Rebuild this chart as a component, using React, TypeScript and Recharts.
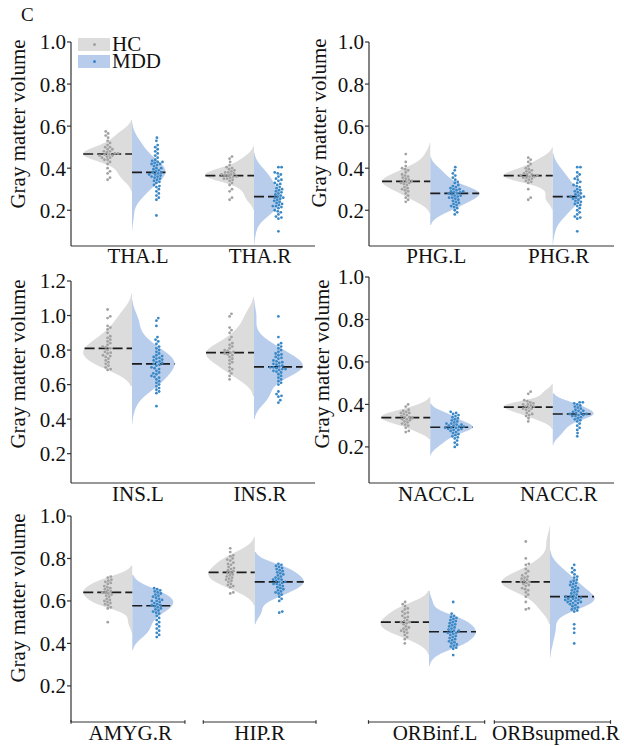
import React from "react";
import { ComposedChart, Area, Scatter, XAxis, YAxis, ReferenceLine, Legend } from "recharts";

const groups = ["HC", "MDD"];

const thaCats = ["THA.L", "THA.R"];
const phgCats = ["PHG.L", "PHG.R"];
const insCats = ["INS.L", "INS.R"];
const naccCats = ["NACC.L", "NACC.R"];
const limbicCats = ["AMYG.R", "HIP.R"];
const orbCats = ["ORBinf.L", "ORBsupmed.R"];

const ticksTo10 = [0.2, 0.4, 0.6, 0.8, 1.0];
const ticksTo12 = [0.2, 0.4, 0.6, 0.8, 1.0, 1.2];

// gray matter volume per subject
const thaL_hc = [0.575, 0.565, 0.555, 0.545, 0.53, 0.52, 0.51, 0.5, 0.5, 0.49, 0.49, 0.48, 0.48, 0.475, 0.47, 0.47, 0.465, 0.465, 0.46, 0.46, 0.455, 0.45, 0.45, 0.44, 0.44, 0.43, 0.42, 0.4, 0.385, 0.375, 0.355, 0.345];
const thaL_mdd = [0.545, 0.53, 0.51, 0.5, 0.49, 0.48, 0.47, 0.46, 0.45, 0.44, 0.435, 0.43, 0.43, 0.425, 0.42, 0.42, 0.415, 0.41, 0.4, 0.4, 0.395, 0.39, 0.385, 0.38, 0.38, 0.375, 0.37, 0.37, 0.365, 0.36, 0.36, 0.355, 0.35, 0.345, 0.34, 0.335, 0.33, 0.32, 0.315, 0.31, 0.3, 0.29, 0.28, 0.27, 0.26, 0.25, 0.175];
const thaR_hc = [0.455, 0.445, 0.43, 0.415, 0.405, 0.4, 0.395, 0.39, 0.385, 0.38, 0.38, 0.375, 0.37, 0.37, 0.365, 0.365, 0.36, 0.36, 0.355, 0.35, 0.35, 0.345, 0.34, 0.33, 0.32, 0.3, 0.29, 0.26, 0.25];
const thaR_mdd = [0.405, 0.405, 0.38, 0.375, 0.37, 0.36, 0.35, 0.345, 0.34, 0.33, 0.325, 0.32, 0.31, 0.305, 0.3, 0.295, 0.29, 0.285, 0.28, 0.275, 0.27, 0.265, 0.26, 0.26, 0.255, 0.25, 0.245, 0.24, 0.235, 0.23, 0.225, 0.22, 0.22, 0.215, 0.21, 0.2, 0.195, 0.19, 0.18, 0.17, 0.165, 0.16, 0.1];

const phgL_hc = [0.467, 0.43, 0.41, 0.4, 0.395, 0.39, 0.38, 0.37, 0.365, 0.36, 0.355, 0.35, 0.345, 0.34, 0.34, 0.335, 0.33, 0.33, 0.325, 0.32, 0.31, 0.305, 0.3, 0.295, 0.29, 0.28, 0.27, 0.26, 0.25, 0.24];
const phgL_mdd = [0.405, 0.39, 0.375, 0.365, 0.355, 0.345, 0.335, 0.33, 0.32, 0.315, 0.31, 0.305, 0.3, 0.3, 0.295, 0.29, 0.29, 0.285, 0.285, 0.28, 0.28, 0.275, 0.27, 0.27, 0.265, 0.26, 0.26, 0.255, 0.25, 0.245, 0.24, 0.235, 0.23, 0.225, 0.22, 0.215, 0.21, 0.2, 0.19, 0.18];
const phgR_hc = [0.45, 0.44, 0.43, 0.42, 0.41, 0.4, 0.395, 0.39, 0.385, 0.38, 0.375, 0.37, 0.37, 0.365, 0.365, 0.36, 0.36, 0.355, 0.355, 0.35, 0.345, 0.34, 0.335, 0.33, 0.3, 0.26, 0.25];
const phgR_mdd = [0.405, 0.405, 0.38, 0.37, 0.36, 0.35, 0.345, 0.335, 0.33, 0.32, 0.315, 0.31, 0.3, 0.295, 0.29, 0.285, 0.28, 0.275, 0.27, 0.265, 0.265, 0.26, 0.26, 0.255, 0.25, 0.245, 0.24, 0.235, 0.23, 0.225, 0.22, 0.21, 0.2, 0.19, 0.18, 0.17, 0.165, 0.16, 0.1];

const insL_hc = [1.035, 0.995, 0.985, 0.94, 0.93, 0.92, 0.9, 0.88, 0.87, 0.86, 0.85, 0.84, 0.83, 0.82, 0.815, 0.81, 0.8, 0.79, 0.785, 0.78, 0.77, 0.765, 0.76, 0.75, 0.74, 0.73, 0.72, 0.71, 0.7, 0.69, 0.685];
const insL_mdd = [0.985, 0.97, 0.94, 0.875, 0.86, 0.85, 0.835, 0.82, 0.81, 0.8, 0.79, 0.78, 0.77, 0.765, 0.76, 0.755, 0.75, 0.745, 0.74, 0.735, 0.73, 0.725, 0.72, 0.715, 0.71, 0.7, 0.695, 0.69, 0.68, 0.67, 0.665, 0.66, 0.65, 0.645, 0.64, 0.63, 0.62, 0.61, 0.6, 0.59, 0.58, 0.57, 0.56, 0.55, 0.475];
const insR_hc = [1.01, 0.995, 0.93, 0.915, 0.9, 0.875, 0.86, 0.84, 0.83, 0.82, 0.81, 0.8, 0.795, 0.79, 0.785, 0.78, 0.775, 0.77, 0.76, 0.75, 0.74, 0.73, 0.72, 0.7, 0.69, 0.68, 0.665, 0.65, 0.63];
const insR_mdd = [0.995, 0.875, 0.84, 0.83, 0.82, 0.81, 0.8, 0.79, 0.78, 0.775, 0.77, 0.76, 0.755, 0.75, 0.74, 0.735, 0.73, 0.725, 0.72, 0.715, 0.71, 0.705, 0.7, 0.7, 0.695, 0.69, 0.69, 0.685, 0.68, 0.675, 0.67, 0.66, 0.65, 0.64, 0.63, 0.62, 0.61, 0.6, 0.56, 0.545, 0.535, 0.53, 0.51, 0.495];

const naccL_hc = [0.4, 0.39, 0.375, 0.37, 0.365, 0.36, 0.36, 0.355, 0.35, 0.345, 0.34, 0.34, 0.335, 0.33, 0.33, 0.325, 0.32, 0.315, 0.31, 0.305, 0.3, 0.29, 0.275, 0.27];
const naccL_mdd = [0.365, 0.36, 0.355, 0.35, 0.345, 0.34, 0.335, 0.33, 0.325, 0.32, 0.315, 0.31, 0.31, 0.305, 0.305, 0.3, 0.3, 0.295, 0.295, 0.29, 0.29, 0.29, 0.285, 0.285, 0.28, 0.28, 0.275, 0.27, 0.265, 0.26, 0.255, 0.25, 0.245, 0.24, 0.23, 0.22, 0.21, 0.2];
const naccR_hc = [0.46, 0.45, 0.42, 0.415, 0.41, 0.405, 0.4, 0.4, 0.395, 0.39, 0.39, 0.385, 0.38, 0.38, 0.375, 0.37, 0.36, 0.355, 0.35, 0.345, 0.335, 0.32];
const naccR_mdd = [0.41, 0.41, 0.405, 0.4, 0.395, 0.39, 0.385, 0.38, 0.375, 0.37, 0.37, 0.365, 0.36, 0.36, 0.355, 0.355, 0.35, 0.35, 0.345, 0.345, 0.34, 0.335, 0.33, 0.325, 0.32, 0.31, 0.3, 0.29, 0.28, 0.265, 0.25];

const amygR_hc = [0.715, 0.71, 0.7, 0.695, 0.69, 0.685, 0.68, 0.67, 0.665, 0.66, 0.655, 0.65, 0.645, 0.64, 0.64, 0.635, 0.63, 0.625, 0.62, 0.61, 0.605, 0.6, 0.595, 0.59, 0.585, 0.58, 0.57, 0.565, 0.5];
const amygR_mdd = [0.66, 0.655, 0.65, 0.645, 0.64, 0.635, 0.63, 0.625, 0.62, 0.615, 0.61, 0.605, 0.6, 0.6, 0.595, 0.59, 0.585, 0.58, 0.58, 0.575, 0.57, 0.565, 0.56, 0.555, 0.55, 0.545, 0.54, 0.53, 0.52, 0.51, 0.5, 0.49, 0.48, 0.47, 0.46, 0.45, 0.44, 0.43];
const hipR_hc = [0.848, 0.83, 0.815, 0.81, 0.8, 0.795, 0.79, 0.78, 0.775, 0.77, 0.76, 0.755, 0.75, 0.745, 0.74, 0.735, 0.73, 0.725, 0.72, 0.715, 0.71, 0.705, 0.7, 0.695, 0.69, 0.68, 0.675, 0.67, 0.665, 0.64, 0.635];
const hipR_mdd = [0.775, 0.77, 0.765, 0.76, 0.755, 0.75, 0.745, 0.74, 0.735, 0.73, 0.725, 0.72, 0.715, 0.71, 0.705, 0.7, 0.7, 0.695, 0.69, 0.69, 0.685, 0.68, 0.68, 0.675, 0.67, 0.665, 0.66, 0.655, 0.65, 0.645, 0.64, 0.635, 0.63, 0.62, 0.61, 0.6, 0.55, 0.545];

const orbInfL_hc = [0.595, 0.585, 0.575, 0.565, 0.56, 0.55, 0.545, 0.54, 0.53, 0.525, 0.52, 0.51, 0.505, 0.5, 0.5, 0.495, 0.49, 0.48, 0.475, 0.47, 0.465, 0.46, 0.455, 0.45, 0.44, 0.43, 0.42, 0.4];
const orbInfL_mdd = [0.595, 0.54, 0.53, 0.525, 0.52, 0.515, 0.51, 0.505, 0.5, 0.495, 0.49, 0.485, 0.48, 0.475, 0.47, 0.465, 0.46, 0.46, 0.455, 0.45, 0.45, 0.445, 0.44, 0.435, 0.43, 0.425, 0.42, 0.415, 0.41, 0.405, 0.4, 0.395, 0.39, 0.385, 0.38, 0.375, 0.345];
const orbSupR_hc = [0.88, 0.8, 0.775, 0.77, 0.75, 0.74, 0.73, 0.72, 0.715, 0.71, 0.705, 0.7, 0.695, 0.69, 0.69, 0.685, 0.68, 0.675, 0.67, 0.66, 0.655, 0.65, 0.64, 0.63, 0.62, 0.595, 0.565, 0.56];
const orbSupR_mdd = [0.77, 0.755, 0.745, 0.735, 0.725, 0.715, 0.71, 0.7, 0.695, 0.69, 0.685, 0.68, 0.675, 0.67, 0.665, 0.66, 0.655, 0.65, 0.645, 0.64, 0.635, 0.63, 0.625, 0.62, 0.62, 0.615, 0.615, 0.61, 0.61, 0.605, 0.605, 0.6, 0.6, 0.595, 0.595, 0.59, 0.59, 0.585, 0.58, 0.575, 0.57, 0.565, 0.56, 0.555, 0.55, 0.49, 0.47, 0.45, 0.4];

const SERIF = "'Liberation Serif', 'Times New Roman', serif";
const FS = 21;
const INK = "#111";
const AXIS = "#333";
const HC_FILL = "#dcdcdc";
const MDD_FILL = "#b8cdec";
const HC_DOT = "#a2a2a2";
const MDD_DOT = "#3a88c6";
const fills = [HC_FILL, MDD_FILL];
const dots = [HC_DOT, MDD_DOT];

const Y_MIN = 0.03;
const X_DOMAIN = [-0.5, 1.5];
const STEP = 0.002;
const HALF = 0.4; // max half-violin width (x units)
const DOT_SHIFT = 0.2;
const DOT_GAP = 3.2; // px between swarm dots

const panels = [
  { cats: thaCats, hc: [thaL_hc, thaR_hc], mdd: [thaL_mdd, thaR_mdd], yMax: 1.0, yTicks: ticksTo10,
    left: 0, top: 0, width: 318, height: 275, margin: { top: 42, right: 3, bottom: 0, left: 0 }, yWidth: 71, xHeight: 29,
    title: { x: 18, y: 124 }, labelDy: 17, tickDx: [6, 6], legend: true },
  { cats: phgCats, hc: [phgL_hc, phgR_hc], mdd: [phgL_mdd, phgR_mdd], yMax: 1.0, yTicks: ticksTo10,
    left: 300, top: 0, width: 324, height: 275, margin: { top: 42, right: 10, bottom: 0, left: 0 }, yWidth: 69, xHeight: 29,
    title: { x: 19, y: 123 }, labelDy: 17, tickDx: [6, 6] },
  { cats: insCats, hc: [insL_hc, insR_hc], mdd: [insL_mdd, insR_mdd], yMax: 1.2, yTicks: ticksTo12,
    left: 0, top: 255, width: 318, height: 255, margin: { top: 26, right: 3, bottom: 0, left: 0 }, yWidth: 71, xHeight: 27,
    title: { x: 18, y: 109 }, labelDy: 18, tickDx: [6, 6] },
  { cats: naccCats, hc: [naccL_hc, naccR_hc], mdd: [naccL_mdd, naccR_mdd], yMax: 1.0, yTicks: ticksTo10,
    left: 300, top: 255, width: 324, height: 255, margin: { top: 22, right: 10, bottom: 0, left: 0 }, yWidth: 69, xHeight: 27,
    title: { x: 22, y: 109 }, labelDy: 18, tickDx: [6, 6] },
  { cats: limbicCats, hc: [amygR_hc, hipR_hc], mdd: [amygR_mdd, hipR_mdd], yMax: 1.0, yTicks: ticksTo10,
    left: 0, top: 495, width: 340, height: 251, margin: { top: 21, right: 24, bottom: 0, left: 0 }, yWidth: 71, xHeight: 24,
    title: { x: 17.5, y: 103 }, labelDy: 18, tickDx: [-2, 5], segments: [[-0.5, 0.43], [0.58, 1.5]] },
  { cats: orbCats, hc: [orbInfL_hc, orbSupR_hc], mdd: [orbInfL_mdd, orbSupR_mdd], yMax: 1.0, yTicks: ticksTo10,
    left: 340, top: 495, width: 284, height: 251, margin: { top: 21, right: 13.5, bottom: 0, left: 28.5 }, yWidth: 0, xHeight: 24,
    title: null, labelDy: 18, tickDx: [6, 6], segments: [[-0.5, 0.46], [0.54, 1.5]] },
];

// gaussian kde, scott bandwidth, cut = 2 (seaborn defaults)
function kde(vals: number[]) {
  const n = vals.length;
  const mean = vals.reduce((s, v) => s + v, 0) / n;
  const sd = Math.sqrt(vals.reduce((s, v) => s + (v - mean) ** 2, 0) / (n - 1));
  const bw = sd * Math.pow(n, -0.2);
  const lo = Math.min(...vals) - 2 * bw;
  const hi = Math.max(...vals) + 2 * bw;
  const f = (y: number) =>
    vals.reduce((s, v) => s + Math.exp(-0.5 * ((y - v) / bw) ** 2), 0) / (n * bw * Math.sqrt(2 * Math.PI));
  let peak = 0;
  for (let i = 0; i <= 200; i++) peak = Math.max(peak, f(lo + ((hi - lo) * i) / 200));
  return { lo, hi, f, peak };
}

function median(vals: number[]) {
  const s = [...vals].sort((a, b) => a - b);
  const m = s.length >> 1;
  return s.length % 2 ? s[m] : (s[m - 1] + s[m]) / 2;
}

// beeswarm offsets in px
function swarm(vals: number[], ypx: number, d: number) {
  const order = vals.map((_, i) => i).sort((a, b) => vals[a] - vals[b]);
  const placed: { x: number; y: number }[] = [];
  const out = new Array(vals.length).fill(0);
  for (const i of order) {
    const y = vals[i] * ypx;
    const near = placed.filter((p) => Math.abs(p.y - y) < d);
    const cands = [0];
    near.forEach((p) => {
      const dx = Math.sqrt(d * d - (p.y - y) ** 2);
      cands.push(p.x + dx, p.x - dx);
    });
    cands.sort((a, b) => Math.abs(a) - Math.abs(b));
    const x = cands.find((c) => near.every((p) => (p.x - c) ** 2 + (p.y - y) ** 2 >= d * d - 1e-6)) ?? 0;
    placed.push({ x, y });
    out[i] = x;
  }
  return out;
}

function CatTick(props: any) {
  const { x, y, payload, cats, dxs, dy } = props;
  return (
    <text x={x + dxs[payload.value]} y={y + dy} textAnchor="middle" fontSize={FS} fontFamily={SERIF} fill={INK}>
      {cats[payload.value]}
    </text>
  );
}

function YTitle({ px, py }: any) {
  return (
    <text x={px} y={py} transform={`rotate(-90 ${px} ${py})`} textAnchor="middle" dominantBaseline="central"
      fontSize={FS} fontFamily={SERIF} fill={INK}>
      Gray matter volume
    </text>
  );
}

function GroupKey() {
  return (
    <div style={{ fontFamily: SERIF, fontSize: FS, color: INK }}>
      {groups.map((g, i) => (
        <div key={g} style={{ display: "flex", alignItems: "center", height: 17 }}>
          <div style={{ width: 32, height: 13, background: fills[i], position: "relative" }}>
            <div style={{ position: "absolute", left: 14.5, top: 5, width: 3, height: 3, borderRadius: "50%", background: dots[i] }} />
          </div>
          <span style={{ marginLeft: 2, lineHeight: "17px" }}>{g}</span>
        </div>
      ))}
    </div>
  );
}

function Panel({ p }: { p: any }) {
  const plotW = p.width - p.margin.left - p.margin.right - p.yWidth;
  const plotH = p.height - p.margin.top - p.margin.bottom - p.xHeight;
  const xpx = plotW / (X_DOMAIN[1] - X_DOMAIN[0]);
  const ypx = plotH / (p.yMax - Y_MIN);

  const halves: any[] = [];
  p.cats.forEach((_: string, ci: number) => {
    const a = kde(p.hc[ci]);
    const b = kde(p.mdd[ci]);
    const peak = Math.max(a.peak, b.peak);
    halves.push({ ci, side: -1, k: a, peak, vals: p.hc[ci], fill: HC_FILL, dot: HC_DOT });
    halves.push({ ci, side: 1, k: b, peak, vals: p.mdd[ci], fill: MDD_FILL, dot: MDD_DOT });
  });
  const halfWidth = (h: any, y: number) => (HALF * h.k.f(y)) / h.peak;

  const rows: any[] = [];
  const nSteps = Math.round((p.yMax - Y_MIN) / STEP);
  for (let i = 0; i <= nSteps; i++) {
    const y = Y_MIN + i * STEP;
    const row: any = { y };
    halves.forEach((h, j) => {
      if (y < h.k.lo || y > h.k.hi) {
        row[`v${j}`] = null;
        return;
      }
      const w = halfWidth(h, y);
      row[`v${j}`] = h.side < 0 ? [h.ci - w, h.ci] : [h.ci, h.ci + w];
    });
    rows.push(row);
  }

  const endTick = 1.8 / ypx;

  return (
    <div style={{ position: "absolute", left: p.left, top: p.top }}>
      <ComposedChart layout="vertical" width={p.width} height={p.height} data={rows} margin={p.margin}>
        <XAxis type="number" dataKey="x" domain={X_DOMAIN} allowDataOverflow ticks={[0, 1]} interval={0}
          height={p.xHeight} tickSize={0} tickMargin={0} tickLine={false}
          axisLine={p.segments ? false : { stroke: AXIS, strokeWidth: 1.2 }}
          tick={<CatTick cats={p.cats} dxs={p.tickDx} dy={p.labelDy} />} />
        <YAxis type="number" dataKey="y" reversed domain={[Y_MIN, p.yMax]} allowDataOverflow ticks={p.yTicks}
          interval={0} hide={!p.yWidth} width={p.yWidth || 0} tickSize={4} tickMargin={1}
          tick={{ fontSize: FS, fontFamily: SERIF, fill: INK }} tickFormatter={(v: number) => v.toFixed(1)}
          axisLine={{ stroke: AXIS, strokeWidth: 1.2 }} tickLine={{ stroke: AXIS, strokeWidth: 1.2 }}
          label={p.title ? <YTitle px={p.title.x} py={p.title.y} /> : undefined} />
        {halves.map((h, j) => (
          <Area key={`a${j}`} dataKey={`v${j}`} type="linear" fill={h.fill} fillOpacity={1} stroke="none"
            dot={false} activeDot={false} isAnimationActive={false} />
        ))}
        {halves.map((h, j) => {
          const off = swarm(h.vals, ypx, DOT_GAP);
          const pts = h.vals.map((v: number, i: number) => ({ x: h.ci + h.side * DOT_SHIFT + off[i] / xpx, y: v }));
          return (
            <Scatter key={`s${j}`} data={pts} isAnimationActive={false}
              shape={(s: any) => <circle cx={s.cx} cy={s.cy} r={1.4} fill={h.dot} />} />
          );
        })}
        {halves.map((h, j) => {
          const m = median(h.vals);
          const w = halfWidth(h, m);
          const seg = h.side < 0 ? [{ x: h.ci - w, y: m }, { x: h.ci, y: m }] : [{ x: h.ci, y: m }, { x: h.ci + w, y: m }];
          return (
            <ReferenceLine key={`m${j}`} segment={seg} stroke="#1c1c1c" strokeWidth={1.7} strokeDasharray="10 4"
              ifOverflow="visible" />
          );
        })}
        {(p.segments || []).map((s: number[], i: number) => (
          <ReferenceLine key={`x${i}`} segment={[{ x: s[0], y: Y_MIN }, { x: s[1], y: Y_MIN }]} stroke={AXIS}
            strokeWidth={1.2} ifOverflow="visible" />
        ))}
        {(p.segments || []).flatMap((s: number[], i: number) =>
          s.map((e, k) => (
            <ReferenceLine key={`e${i}${k}`} segment={[{ x: e, y: Y_MIN - endTick }, { x: e, y: Y_MIN + endTick }]}
              stroke={AXIS} strokeWidth={1.2} ifOverflow="visible" />
          ))
        )}
        {p.legend && (
          <Legend layout="horizontal" verticalAlign="middle" align="center"
            wrapperStyle={{ left: 78, top: 36, width: 90, height: 34 }} content={() => <GroupKey />} />
        )}
      </ComposedChart>
    </div>
  );
}

export default function App() {
  return (
    <div style={{ position: "absolute", left: 0, top: 0, width: 624, height: 746, background: "#fff", fontFamily: SERIF }}>
      <div style={{ position: "absolute", left: 21, top: 5, fontSize: 19, lineHeight: "19px", color: INK }}>C</div>
      {panels.map((p, i) => (
        <Panel key={i} p={p} />
      ))}
    </div>
  );
}
